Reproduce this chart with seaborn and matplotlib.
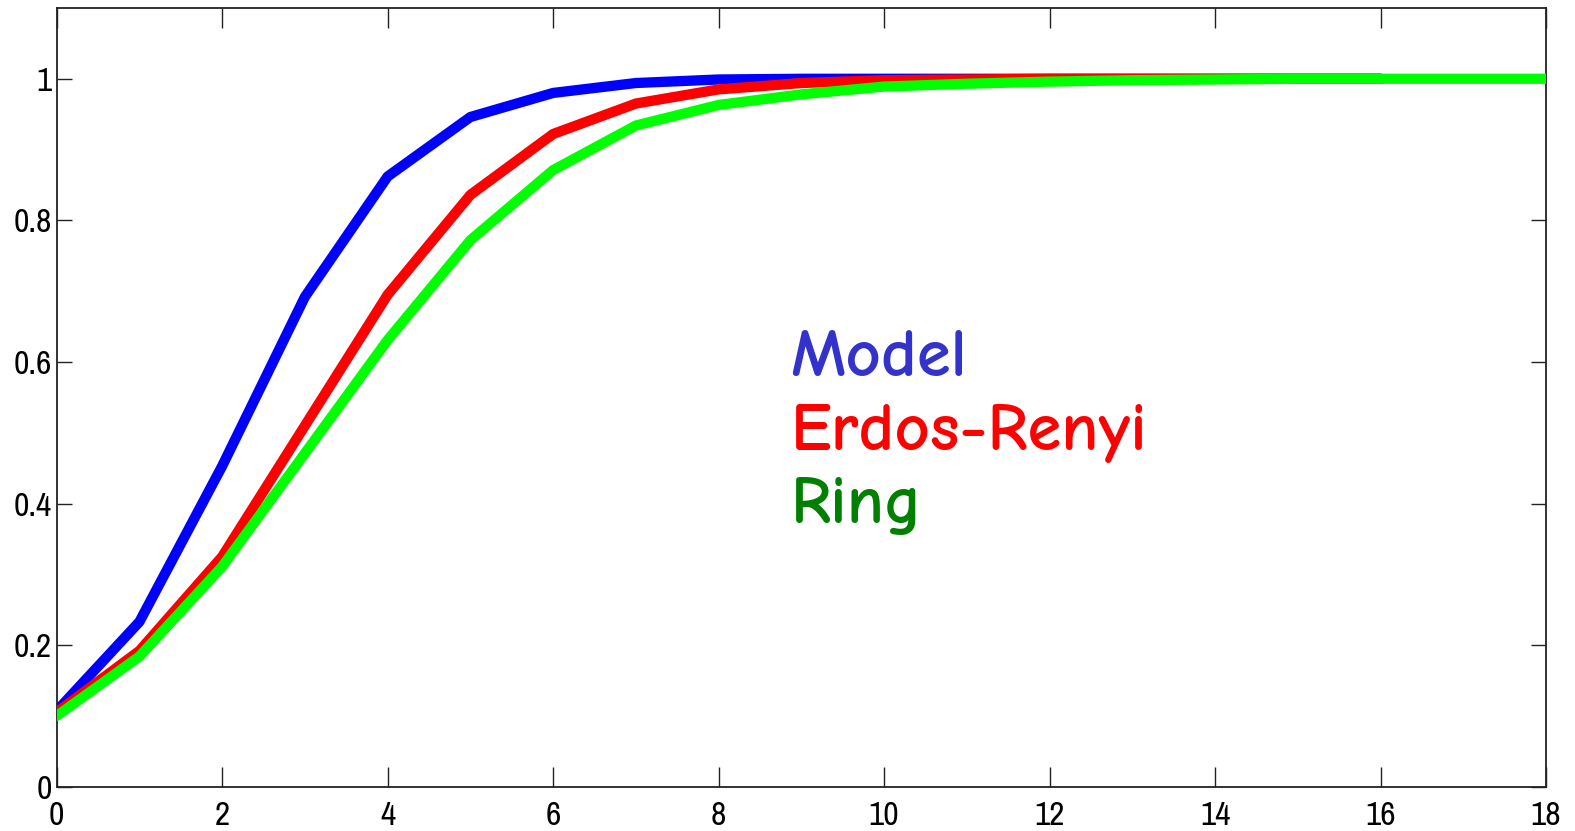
import matplotlib
matplotlib.use("Agg")
import matplotlib.pyplot as plt
import seaborn as sns

# ---- data ----
x_model = [0, 1, 2, 3, 4, 5, 6, 7, 8, 9, 10, 11, 12, 13, 14, 15, 16]
y_model = [0.107, 0.233, 0.453, 0.692, 0.862, 0.946, 0.980, 0.994, 0.999, 1.0, 1.0, 1.0, 1.0, 1.0, 1.0, 1.0, 1.0]

x_er = [0, 1, 2, 3, 4, 5, 6, 7, 8, 9, 10, 11, 12, 13, 14, 15, 16]
y_er = [0.105, 0.192, 0.325, 0.510, 0.695, 0.836, 0.922, 0.965, 0.985, 0.994, 0.998, 0.999, 1.0, 1.0, 1.0, 1.0, 1.0]

x_ring = [0, 1, 2, 3, 4, 5, 6, 7, 8, 9, 10, 11, 12, 13, 14, 15, 16, 17, 18]
y_ring = [0.100, 0.184, 0.311, 0.471, 0.631, 0.772, 0.871, 0.934, 0.963, 0.978, 0.989, 0.993, 0.996, 0.998, 0.999, 1.0, 1.0, 1.0, 1.0]

labels = ["Model", "Erdos-Renyi", "Ring"]
x_ticks = [0, 2, 4, 6, 8, 10, 12, 14, 16, 18]
y_ticks = [0, 0.2, 0.4, 0.6, 0.8, 1]
y_ticklabels = ["0", "0.2", "0.4", "0.6", "0.8", "1"]

# ---- style ----
sns.set_style("ticks")
plt.rcParams['font.family'] = ['Archivo Narrow', 'Liberation Sans', 'DejaVu Sans']

fig = plt.figure(figsize=(15.75, 8.31), dpi=100)
ax = fig.add_axes([0.036, 0.0533, 0.9456, 0.9371])

lw = 7.4
sns.lineplot(x=x_model, y=y_model, color="#0000ff", linewidth=lw, ax=ax, zorder=3)
sns.lineplot(x=x_er, y=y_er, color="#ff0000", linewidth=lw, ax=ax, zorder=4)
sns.lineplot(x=x_ring, y=y_ring, color="#00ff00", linewidth=lw, ax=ax, zorder=5)

ax.set_xlim(0, 18)
ax.set_ylim(0, 1.1)
ax.set_xticks(x_ticks)
ax.set_xticklabels([str(t) for t in x_ticks])
ax.set_yticks(y_ticks)
ax.set_yticklabels(y_ticklabels)

for s in ax.spines.values():
    s.set_visible(True)
    s.set_linewidth(1.3)
    s.set_color("#222222")

ax.tick_params(axis='x', direction='in', length=14.4, width=1.0, colors="#222222",
               top=True, bottom=True, labelsize=24, pad=10, labelcolor="black")
ax.tick_params(axis='y', direction='in', length=10.8, width=1.0, colors="#222222",
               left=True, right=True, labelsize=24, pad=3.5, labelcolor="black")
ax.set_xlabel("")
ax.set_ylabel("")

text_colors = ["#3333cc", "#ff0000", "#007f00"]
text_y = [0.580, 0.476, 0.373]
for lab, c, ty in zip(labels, text_colors, text_y):
    ax.text(8.87, ty, lab, color=c, fontsize=49.5, family=['Comic Neue', 'DejaVu Sans'],
            fontweight='bold', ha='left', va='baseline')

fig.savefig("out.png", dpi=100)
